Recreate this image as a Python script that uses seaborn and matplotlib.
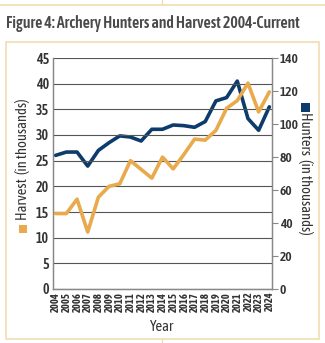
import matplotlib
matplotlib.use("Agg")
import matplotlib.pyplot as plt
from matplotlib import font_manager as fm
import seaborn as sns
import pandas as pd
from matplotlib.patches import Rectangle
from matplotlib.lines import Line2D

years = list(range(2004, 2025))
harvest = [14.7, 14.7, 17.5, 11.1, 17.9, 20.0, 20.5, 25.0, 23.3, 21.6, 25.7,
           23.4, 26.2, 29.2, 29.0, 30.9, 35.2, 36.7, 40.1, 34.5, 38.4]
hunters = [81.0, 83.0, 83.0, 74.5, 84.0, 88.7, 92.8, 92.1, 89.7, 96.8, 96.8,
           99.4, 99.0, 98.0, 101.5, 114.0, 116.0, 126.0, 103.3, 96.2, 110.4]
left_ticks = [0, 5, 10, 15, 20, 25, 30, 35, 40, 45]
right_ticks = [0, 20, 40, 60, 80, 100, 120, 140]

ORANGE = "#E8AA4C"
NAVY = "#0D3B6B"
BEIGE = "#F1DDB2"
TXT = "#333333"

# look for a condensed font that has a bold face
names = {}
for f in fm.fontManager.ttflist:
    if "Narrow" in f.name or "Condensed" in f.name:
        names.setdefault(f.name, set()).add(f.weight)
cond = None
for n, w in names.items():
    if any((isinstance(x, int) and x >= 600) or x in ("bold", "semibold", "demibold") for x in w):
        cond = n
        break
if cond is None and names:
    cond = list(names)[0]
FONT = [cond, "DejaVu Sans"] if cond else ["DejaVu Sans"]
SCALE = 1.0 if cond else 0.85

sns.set_theme(style="white")
plt.rcParams["font.family"] = FONT

df = pd.DataFrame({"Year": years, "Harvest": harvest, "Hunters": hunters})

fig = plt.figure(figsize=(3.25, 3.43), dpi=100)
fig.patch.set_facecolor("white")

# decorative frame
fig.add_artist(Line2D([0, 1], [1 - 5/343, 1 - 5/343], transform=fig.transFigure, color=BEIGE, lw=1.2))
fig.add_artist(Line2D([162/325, 162/325], [1 - 5/343, 1.0], transform=fig.transFigure, color=BEIGE, lw=1.0))
fig.add_artist(Rectangle((6/325, 1 - 339/343), (319-6)/325, (339-42)/343, transform=fig.transFigure,
                         fill=False, edgecolor=BEIGE, lw=1.2))
fig.add_artist(Line2D([162/325, 162/325], [0, 1 - 339/343], transform=fig.transFigure, color=BEIGE, lw=1.0))

fig.text(6/325, 1 - 24/343, "Figure 4: Archery Hunters and Harvest 2004-Current",
         fontsize=11.3 * (1.0 if cond else 0.7), fontweight="semibold", color="#4a4a4a",
         va="center", ha="left")

ax = fig.add_axes([53/325, 1 - 289/343, (272-53)/325, (289-58)/343])
ax2 = ax.twinx()

sns.lineplot(data=df, x="Year", y="Hunters", ax=ax2, color=NAVY, lw=2.6, zorder=3)
sns.lineplot(data=df, x="Year", y="Harvest", ax=ax, color=ORANGE, lw=2.6, zorder=3)

ax.set_ylim(0, 45)
ax2.set_ylim(0, 140)
ax.set_xlim(2003.75, 2024.25)
ax.set_yticks(left_ticks)
ax.set_yticklabels([str(t) for t in left_ticks], fontsize=10 * SCALE, fontweight="semibold", color=TXT)
ax2.set_yticks(right_ticks)
ax2.set_yticklabels([str(t) for t in right_ticks], fontsize=9.6 * SCALE, fontweight="semibold", color=TXT)
ax.set_xticks(years)
ax.set_xticklabels([str(y) for y in years], rotation=90, fontsize=7.6 * (1.0 if cond else 0.8),
                   fontweight="bold", color=TXT)

ax.grid(axis="y", color="#555555", lw=0.8)
ax.set_axisbelow(True)
ax2.grid(False)
ax2.set_zorder(ax.get_zorder() + 1)
ax2.patch.set_visible(False)
ax.set_zorder(2)
ax.patch.set_visible(False)

for a in (ax, ax2):
    for s in a.spines.values():
        s.set_color("#888888")
        s.set_linewidth(0.9)
    a.spines["top"].set_visible(False)
ax.tick_params(axis="y", length=0, pad=3)
ax.tick_params(axis="x", length=0, pad=2)
ax2.tick_params(axis="y", length=4, width=0.8, color="#888888", pad=1.5, direction="out")

ax.set_xlabel("Year", fontsize=10.5 * SCALE, color=TXT, labelpad=6)
ax.set_ylabel("")
ax2.set_ylabel("")

# left axis label with legend square
fig.text(23/325, 1 - 159/343, "Harvest  (in thousands)", rotation=90, fontsize=10.5 * SCALE,
         color=TXT, ha="center", va="center")
fig.add_artist(Rectangle((19/325, 1 - 233/343), 8/325, 8/343, transform=fig.transFigure,
                         facecolor=ORANGE, edgecolor="none"))
# right axis label with legend square
fig.text(305/325, 1 - 173/343, "Hunters  (in thousands)", rotation=-90, fontsize=10.5 * SCALE,
         color=TXT, ha="center", va="center")
fig.add_artist(Rectangle((300.5/325, 1 - 112/343), 9/325, 9/343, transform=fig.transFigure,
                         facecolor=NAVY, edgecolor="none"))

fig.savefig("out.png", dpi=100, facecolor="white")
